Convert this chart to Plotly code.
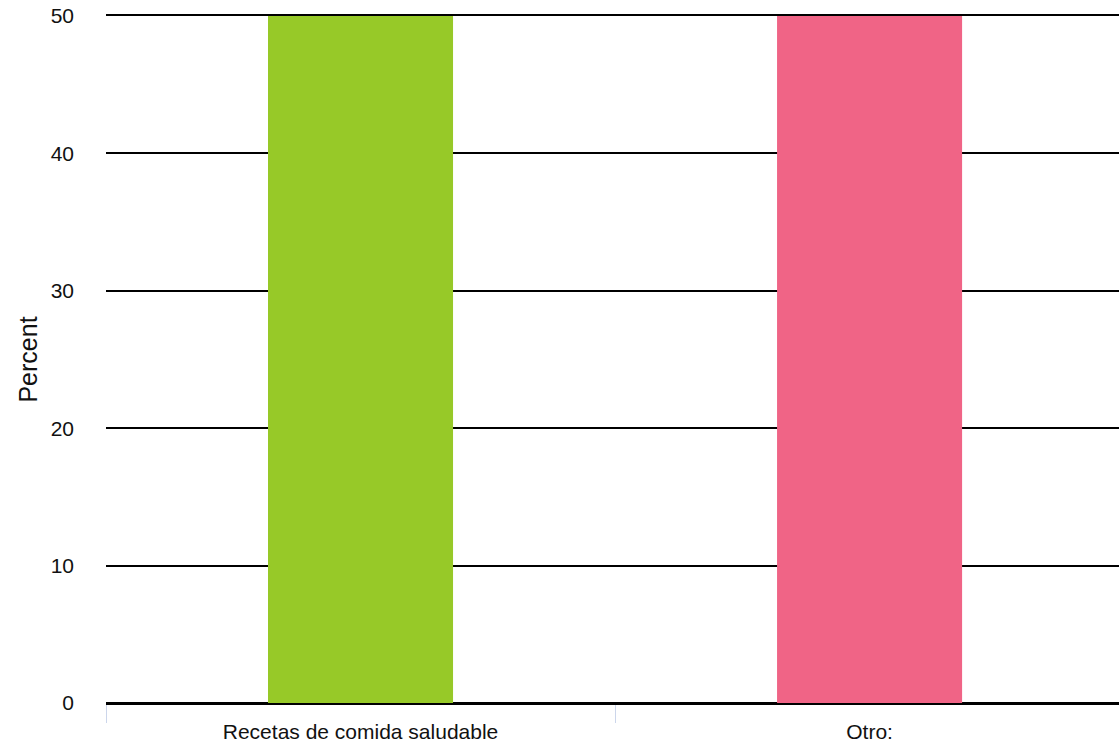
import plotly.graph_objects as go

categories = ["Recetas de comida saludable", "Otro:"]
values = [50, 50]
colors = ["#97C928", "#F06486"]
y_ticks = [0, 10, 20, 30, 40, 50]

fig = go.Figure()
fig.add_trace(go.Bar(
    x=categories,
    y=values,
    marker=dict(color=colors, line=dict(width=0)),
    width=0.3635,
    showlegend=False,
))

fig.update_layout(
    width=1119,
    height=744,
    margin=dict(l=106, r=0, t=16, b=41, autoexpand=False),
    paper_bgcolor="white",
    plot_bgcolor="white",
    font=dict(family="Liberation Sans, Arial, sans-serif", color="#111111", size=21),
)

fig.update_xaxes(
    type="category",
    range=[-0.5, 1.49],
    ticks="outside",
    tickson="boundaries",
    ticklen=18,
    tickwidth=1,
    tickcolor="#ccd6eb",
    showgrid=False,
    showline=True,
    mirror=True,
    linecolor="#000000",
    linewidth=2,
    tickfont=dict(size=21, color="#111111"),
    ticklabelstandoff=9,
)

fig.update_yaxes(
    range=[0, 50],
    tickvals=y_ticks,
    showgrid=True,
    gridcolor="#000000",
    gridwidth=2,
    zeroline=True,
    zerolinecolor="#000000",
    zerolinewidth=2,
    showline=False,
    ticks="",
    ticklabelstandoff=31,
    tickfont=dict(size=21, color="#111111"),
    title=dict(text="Percent", font=dict(size=25, color="#111111"), standoff=5),
    automargin=False,
)

fig.write_html(
    "out.html",
    config={"displayModeBar": False},
    post_script="document.body.style.margin='0';document.body.style.overflow='hidden';",
)
